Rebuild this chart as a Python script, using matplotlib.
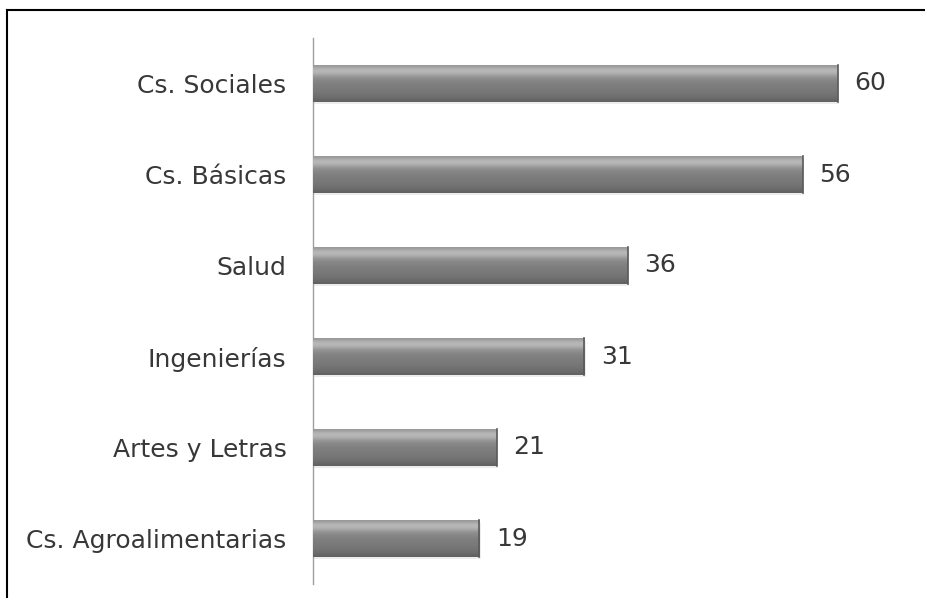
import matplotlib.pyplot as plt
import numpy as np
from matplotlib.lines import Line2D

categorias = ["Cs. Sociales", "Cs. Básicas", "Salud", "Ingenierías",
              "Artes y Letras", "Cs. Agroalimentarias"]
valores = [60, 56, 36, 31, 21, 19]

fig = plt.figure(figsize=(9.25, 5.98), dpi=100)
ax = fig.add_axes([313 / 925, 1 - 584 / 598, 612 / 925, 546 / 598])

y = np.arange(len(categorias))
bars = ax.barh(y, valores, height=0.4, color="#7a7a7a", edgecolor="none", zorder=2)

# degradado vertical para dar el efecto de cilindro
perfil = np.array([0.60, 0.70, 0.73, 0.68, 0.60, 0.55, 0.52, 0.50, 0.49, 0.48,
                   0.47, 0.46, 0.44, 0.42, 0.38])
grad = np.repeat(perfil[:, None], 2, axis=1)
for b in bars:
    x0, y0, w, h = b.get_x(), b.get_y(), b.get_width(), b.get_height()
    # sombra suave
    ax.barh(y0 + h / 2 + 0.03, w + 0.2, height=h, left=x0, color="#000000",
            alpha=0.07, zorder=1, edgecolor="none")
    im = ax.imshow(grad, cmap="gray", vmin=0, vmax=1, aspect="auto",
                   extent=[x0, x0 + w, y0 + h, y0], interpolation="bicubic", zorder=3)
    im.set_clip_path(b)
    # borde derecho un poco mas oscuro
    ax.plot([x0 + w, x0 + w], [y0, y0 + h], color="#5a5a5a", lw=1.2, zorder=4)

for yi, v in zip(y, valores):
    ax.annotate(str(v), (v, yi), xytext=(12, 0), textcoords="offset points",
                va="center", ha="left", fontsize=18, color="#383838")

ax.set_xlim(0, 70)
ax.set_ylim(5.5, -0.5)
ax.set_yticks(y)
ax.set_yticklabels(categorias, fontsize=18, color="#383838")
ax.tick_params(axis="y", length=0, pad=19)
ax.set_xticks([])
for s in ["top", "right", "bottom"]:
    ax.spines[s].set_visible(False)
ax.spines["left"].set_color("#a0a0a0")
ax.spines["left"].set_linewidth(1)

# marco exterior (arriba e izquierda)
fig.add_artist(Line2D([7 / 925, 1], [1 - 10 / 598, 1 - 10 / 598], color="black", lw=1.5))
fig.add_artist(Line2D([7 / 925, 7 / 925], [0, 1 - 10 / 598], color="black", lw=1.5))

fig.savefig("out.png", dpi=100)
